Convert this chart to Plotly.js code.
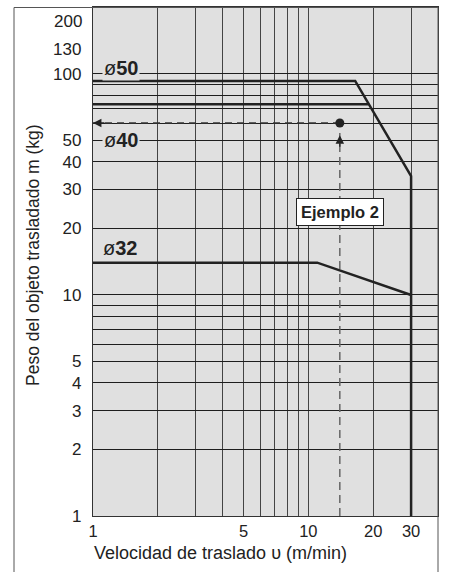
<!DOCTYPE html>
<html>
<head>
<meta charset="utf-8">
<script src="https://cdn.plot.ly/plotly-3.0.1.min.js"></script>
<style>html,body{margin:0;padding:0;background:#fff;}#chart{width:453px;height:572px;}</style>
</head>
<body>
<div id="chart"></div>
<script>
// ---- data ----
const xGrid = [2, 3, 4, 5, 6, 7, 8, 9, 10, 20, 30];
const yGrid = [2, 3, 4, 5, 6, 7, 8, 9, 10, 20, 30, 40, 50, 60, 70, 80, 90, 100];
const xTickVals = [1, 5, 10, 20, 30];
const yTickVals = [1, 2, 3, 4, 5, 10, 20, 30, 40, 50, 100, 130];
const yTopLabel = '200';   // drawn just below the top edge, as in the reference

const phi50X = [1, 16.5, 30, 30];
const phi50Y = [93, 93, 34.5, 1];
const phi40X = [1, 19];
const phi40Y = [73, 73];
const phi32X = [1, 11, 30];
const phi32Y = [14, 14, 10];

const exampleX = 14;
const exampleY = 60;
const axisMinX = 1;
const axisMinY = 1;

// ---- layout helpers ----
const W = 453, H = 572;
const mL = 93, mR = 15, mT = 7, mB = 56;
const pw = W - mL - mR, ph = H - mT - mB;
const px = v => (v - mL) / pw;          // pixel x -> paper
const py = v => (H - mB - v) / ph;      // pixel y -> paper

const font = '"Liberation Sans", Arial, Helvetica, sans-serif';
const ink = '#222';
const plotBg = '#e0e0e0';

const lineStyle = {color: ink, width: 2.5};

const traces = [
  {x: phi50X, y: phi50Y, mode: 'lines', line: lineStyle, hoverinfo: 'skip'},
  {x: phi40X, y: phi40Y, mode: 'lines', line: lineStyle, hoverinfo: 'skip'},
  {x: phi32X, y: phi32Y, mode: 'lines', line: lineStyle, hoverinfo: 'skip'},
  {x: [axisMinX, exampleX], y: [exampleY, exampleY], mode: 'lines',
   line: {color: '#333', width: 1.3, dash: '7px,5px'}, hoverinfo: 'skip'},
  {x: [exampleX, exampleX], y: [axisMinY, exampleY * 0.9], mode: 'lines',
   line: {color: '#666', width: 1.5, dash: '8px,5px'}, hoverinfo: 'skip'},
  {x: [exampleX], y: [exampleY], mode: 'markers',
   marker: {color: ink, size: 9}, hoverinfo: 'skip'}
];

const lbl = (text, xpx, ypx) => ({
  text: text, xref: 'paper', yref: 'paper', x: px(xpx), y: py(ypx),
  xanchor: 'center', yanchor: 'middle', showarrow: false,
  bgcolor: plotBg, borderpad: 1,
  font: {family: font, size: 20, color: ink}
});

const annotations = [
  lbl('ø<b>50</b>', 121, 68),
  lbl('ø<b>40</b>', 121, 140),
  lbl('ø<b>32</b>', 120, 248),
  {text: '<b>Ejemplo 2</b>', xref: 'paper', yref: 'paper', x: px(340), y: py(212),
   xanchor: 'center', yanchor: 'middle', showarrow: false,
   bgcolor: '#ffffff', bordercolor: ink, borderwidth: 1, borderpad: 4,
   font: {family: font, size: 16.5, color: ink}},
  // arrowheads
  {x: Math.log10(axisMinX), y: Math.log10(exampleY), xref: 'x', yref: 'y',
   text: '', showarrow: true, arrowhead: 2, arrowsize: 1.3, arrowwidth: 1.3,
   arrowcolor: ink, ax: 13, ay: 0},
  {x: Math.log10(exampleX), y: Math.log10(exampleY * 0.88), xref: 'x', yref: 'y',
   text: '', showarrow: true, arrowhead: 2, arrowsize: 1.3, arrowwidth: 1.3,
   arrowcolor: ink, ax: 0, ay: 13},
  // top y label
  {text: yTopLabel, xref: 'paper', yref: 'paper', x: px(84), y: py(22),
   xanchor: 'right', yanchor: 'middle', showarrow: false,
   font: {family: font, size: 17, color: ink}},
  // axis titles
  {text: 'Velocidad de traslado υ (m/min)', xref: 'paper', yref: 'paper',
   x: px(92), y: py(553), xanchor: 'left', yanchor: 'middle', showarrow: false,
   font: {family: font, size: 18, color: ink}},
  {text: 'Peso del objeto trasladado m (kg)', xref: 'paper', yref: 'paper',
   x: px(33), y: py(255), xanchor: 'center', yanchor: 'middle', showarrow: false,
   textangle: -90, font: {family: font, size: 17.5, color: ink}}
];

const frame = '#555';
const shapes = [
  {type: 'line', xref: 'paper', yref: 'paper', x0: px(14), x1: px(14), y0: py(572), y1: py(7.5), line: {color: frame, width: 1}},
  {type: 'line', xref: 'paper', yref: 'paper', x0: px(14), x1: px(438), y0: py(7.5), y1: py(7.5), line: {color: frame, width: 1}},
  {type: 'line', xref: 'paper', yref: 'paper', x0: px(438), x1: px(438), y0: py(572), y1: py(7.5), line: {color: frame, width: 1}}
];

const layout = {
  width: W, height: H,
  margin: {l: mL, r: mR, t: mT, b: mB, pad: 0},
  paper_bgcolor: '#ffffff',
  plot_bgcolor: plotBg,
  showlegend: false,
  font: {family: font, size: 17, color: ink},
  xaxis: {
    type: 'log', range: [0, Math.log10(40)],
    tickmode: 'array', tickvals: xTickVals, ticktext: xTickVals.map(String),
    showgrid: false, zeroline: false,
    ticks: '', 
    tickfont: {family: font, size: 16.5, color: ink},
    showline: true, linecolor: '#333', linewidth: 1.2, mirror: true,
    minor: {tickmode: 'array', tickvals: xGrid, showgrid: true, gridcolor: '#444', gridwidth: 1, ticks: ''},
    fixedrange: true
  },
  yaxis: {
    type: 'log', range: [0, 2.303],
    tickmode: 'array', tickvals: yTickVals, ticktext: yTickVals.map(String),
    showgrid: false, zeroline: false,
    ticks: 'outside', ticklen: 7, tickcolor: 'rgba(0,0,0,0)',
    tickfont: {family: font, size: 17, color: ink},
    showline: true, linecolor: '#333', linewidth: 1.2, mirror: true,
    minor: {tickmode: 'array', tickvals: yGrid, showgrid: true, gridcolor: '#1e1e1e', gridwidth: 1, ticks: ''},
    fixedrange: true
  },
  annotations: annotations,
  shapes: shapes
};

Plotly.newPlot('chart', traces, layout, {displayModeBar: false, staticPlot: true});
</script>
</body>
</html>
